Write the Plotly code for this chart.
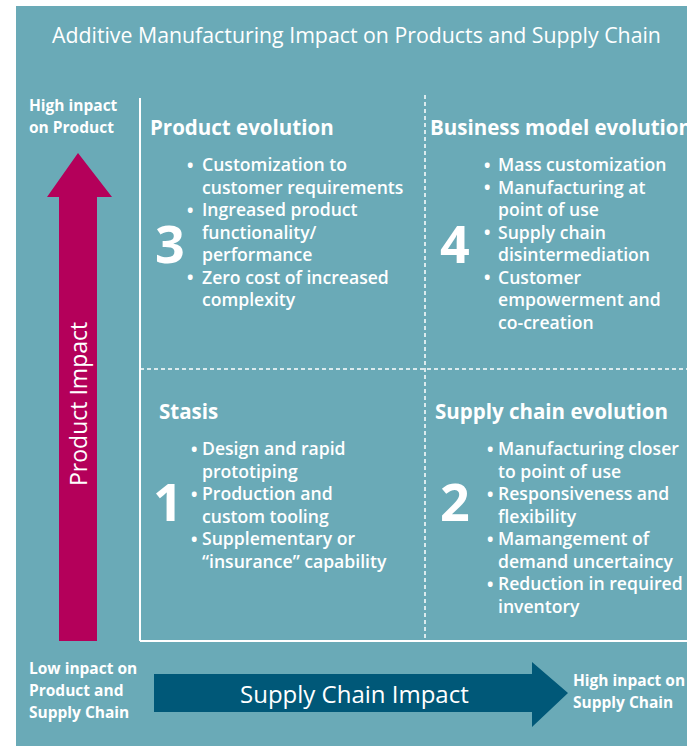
import plotly.graph_objects as go

# ---- content -------------------------------------------------------------
title = "Additive Manufacturing Impact on Products and Supply Chain"

quad_titles = ["Product evolution", "Business model evolution", "Stasis", "Supply chain evolution"]
quad_numbers = ["3", "4", "1", "2"]
quad_bullets = [
    [["Customization to", "customer requirements"],
     ["Ingreased product", "functionality/", "performance"],
     ["Zero cost of increased", "complexity"]],
    [["Mass customization"],
     ["Manufacturing at", "point of use"],
     ["Supply chain", "disintermediation"],
     ["Customer", "empowerment and", "co-creation"]],
    [["Design and rapid", "prototiping"],
     ["Production and", "custom tooling"],
     ["Supplementary or", "\u201cinsurance\u201d capability"]],
    [["Manufacturing closer", "to point of use"],
     ["Responsiveness and", "flexibility"],
     ["Mamangement of", "demand uncertaincy"],
     ["Reduction in required", "inventory"]],
]

y_axis_label = "Product Impact"
x_axis_label = "Supply Chain Impact"
high_product = ["High inpact", "on Product"]
low_both = ["Low inpact on", "Product and", "Supply Chain"]
high_supply = ["High inpact on", "Supply Chain"]

# ---- style ---------------------------------------------------------------
TEAL = "#6aaab7"
MAGENTA = "#b4005a"
NAVY = "#005878"
WHITE = "white"
FONT = "Open Sans"

W, H = 687, 746

# layout positions (pixels, y downwards)
title_pos = [(148, 127), (428, 127), (157, 411), (433, 411)]
number_pos = [(170, 242), (455, 242), (168, 500), (455, 500)]
bullet_x = [190, 487, 194, 490]
text_x = [200, 496, 200, 496]
first_line_y = [164, 164, 448, 448]
line_step = 22.5

shapes = []
annotations = []

# background panel
shapes.append(dict(type="rect", x0=16, x1=W + 5, y0=6, y1=H + 5,
                   fillcolor=TEAL, line=dict(width=0), layer="below"))

# frame lines
solid = dict(color=WHITE, width=2)
dashed = dict(color=WHITE, width=1.5, dash="4px,3px")
shapes += [
    dict(type="line", x0=140, x1=140, y0=98, y1=641, line=solid),
    dict(type="line", x0=140, x1=W + 2, y0=641, y1=641, line=solid),
    dict(type="line", x0=425, x1=425, y0=95, y1=641, line=dashed),
    dict(type="line", x0=140, x1=W + 2, y0=369, y1=369, line=dashed),
]

# vertical arrow (Product Impact)
shapes.append(dict(
    type="path",
    path="M 59 641 L 97 641 L 97 197 L 112 197 L 78 153 L 47 197 L 59 197 Z",
    fillcolor=MAGENTA, line=dict(width=0)))

# horizontal arrow (Supply Chain Impact)
shapes.append(dict(
    type="path",
    path="M 154 674 L 532 674 L 532 662 L 568 693 L 532 727 L 532 712 L 154 712 Z",
    fillcolor=NAVY, line=dict(width=0)))


def txt(x, y, s, size, weight=400, xanchor="left", angle=0):
    annotations.append(dict(
        x=x, y=y, text=s, showarrow=False, xanchor=xanchor, yanchor="middle",
        textangle=angle, align="left",
        font=dict(family=FONT, size=size, color=WHITE, weight=weight)))


txt(356, 34, title, 21.3, 500, xanchor="center")

for i in range(4):
    txt(title_pos[i][0], title_pos[i][1], quad_titles[i], 20.5, 700)
    txt(number_pos[i][0], number_pos[i][1], quad_numbers[i], 52, 700, xanchor="center")
    k = 0
    for item in quad_bullets[i]:
        txt(bullet_x[i], first_line_y[i] + k * line_step + 1, "\u2022", 17, 700, xanchor="center")
        for line in item:
            txt(text_x[i], first_line_y[i] + k * line_step, line, 17.6, 600)
            k += 1

for j, s in enumerate(high_product):
    txt(27, 105 + j * 22, s, 15.5, 700)
for j, s in enumerate(low_both):
    txt(27, 668 + j * 22, s, 15.5, 700)
for j, s in enumerate(high_supply):
    txt(571, 680 + j * 22, s, 15.5, 700)

txt(78, 404, y_axis_label, 23, 400, xanchor="center", angle=-90)
txt(354, 693, x_axis_label, 24, 400, xanchor="center")

fig = go.Figure()
fig.update_layout(
    width=W, height=H,
    margin=dict(l=0, r=0, t=0, b=0),
    paper_bgcolor="white", plot_bgcolor="white",
    xaxis=dict(range=[0, W], visible=False, fixedrange=True),
    yaxis=dict(range=[H, 0], visible=False, fixedrange=True),
    shapes=shapes, annotations=annotations, showlegend=False,
)
fig.write_html("out.html", config={"displayModeBar": False},
               post_script="document.body.style.margin = '0';")
